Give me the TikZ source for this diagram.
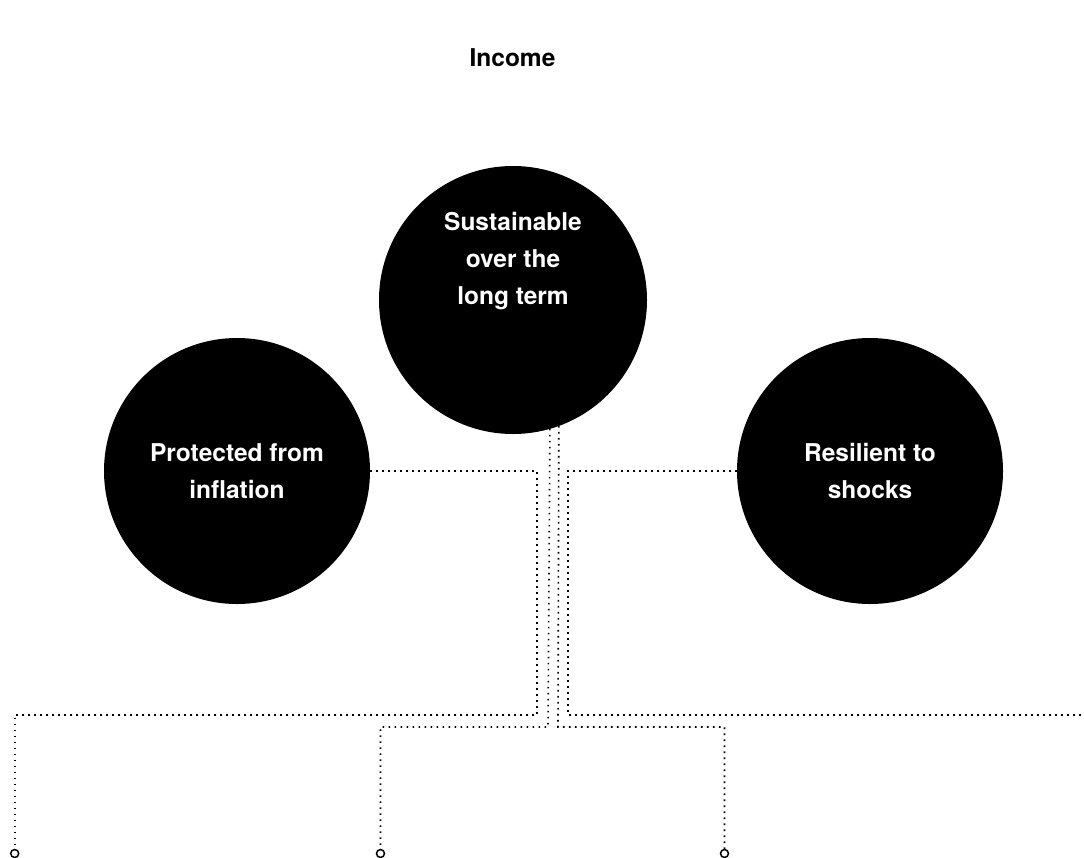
\documentclass[tikz,border=0pt]{standalone}
\usepackage{fontspec}
\setmainfont{TeX Gyre Heros}
\begin{document}
\begin{tikzpicture}[x=1pt,y=-1pt,
  bigc/.style={circle,fill=black,inner sep=0pt,outer sep=0pt,minimum size=#1},
  ctext/.style={text=white,font=\bfseries\fontsize{24.5}{37}\selectfont,align=center,inner sep=0pt},
  dots/.style={line width=1.6pt,dash pattern=on 1.6pt off 4.4pt},
  endc/.style={circle,draw=black,line width=1.5pt,fill=white,inner sep=0pt,outer sep=0pt,minimum size=8pt}]
\useasboundingbox (0,0) rectangle (1084,857);
% title
\node[font=\bfseries\fontsize{24.5}{30}\selectfont,inner sep=0pt] (title) at (512.5,58) {Income};
% circles
\node[bigc=268pt] (sus) at (513,300) {};
\node[ctext] (sustext) at (513,261) {Sustainable\\over the\\long term};
\node[bigc=266pt] (prot) at (237,471) {};
\node[ctext] (prottext) at (237,471) {Protected from\\inflation};
\node[bigc=266pt] (res) at (870,471) {};
\node[ctext] (restext) at (870,471) {Resilient to\\shocks};
% corner coordinates
\coordinate (a1) at (537,715);
\coordinate (b1) at (568,715);
\coordinate (b2) at (1084,715);
\coordinate (c1) at (548,727);
\coordinate (d1) at (558,727);
% end circles
\node[endc] (e1) at (14.7,853.5) {};
\node[endc] (e2) at (380.5,853.5) {};
\node[endc] (e3) at (724.5,853.5) {};
% connectors
\draw[dots] (prot.east) -| (a1) -| (e1.north);
\draw[dots] (res.west) -| (b1) -- (b2);
\draw[dots] (sus.-74.85) -- (c1) -| (e2.north);
\draw[dots] (sus.-70.4) -- (d1) -| (e3.north);
\end{tikzpicture}
\end{document}
